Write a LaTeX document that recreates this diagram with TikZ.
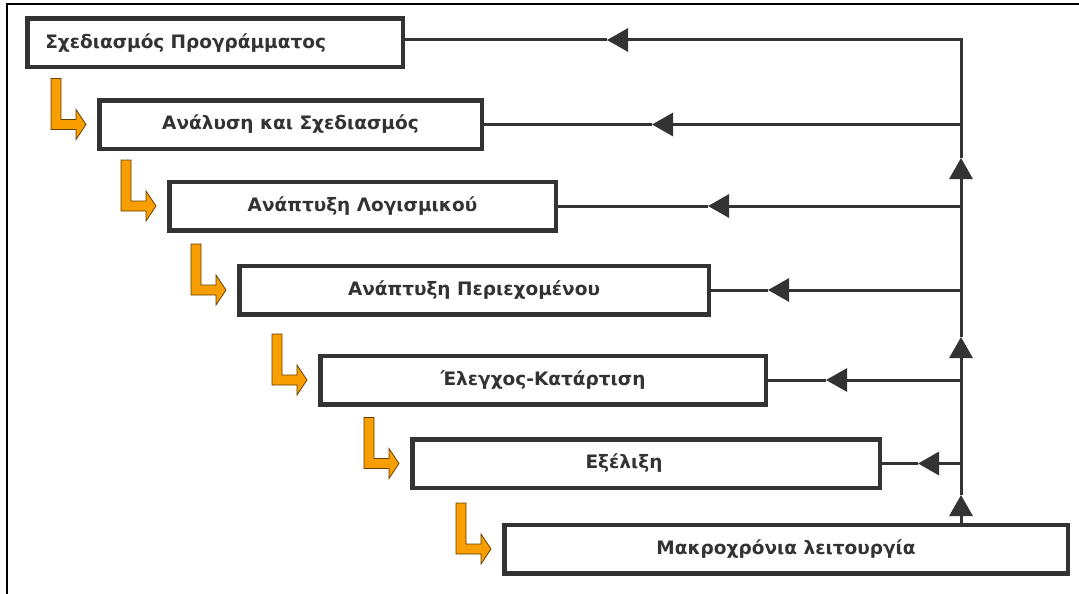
\documentclass[tikz,border=0pt]{standalone}
\usepackage{fontspec}
\setmainfont{DejaVu Sans}
\usetikzlibrary{arrows.meta,calc}
\definecolor{ln}{HTML}{333333}
\definecolor{org}{HTML}{F99E00}
\tikzset{
  box/.style={draw=ln, line width=4.5pt, fill=white, inner sep=0pt, minimum height=48.5pt,
    font=\fontsize{18.5}{21}\selectfont\bfseries, text=ln},
  conn/.style={draw=ln, line width=3pt},
  tip/.style={-{Triangle[length=21pt,width=23pt]}},
  larrow/.pic={\filldraw[fill=org, draw=black!60!org, line width=0.8pt]
    (-35,-46) -- (-25,-46) -- (-25,-5) -- (-10,-5) -- (-10,-15) -- (0,0) -- (-10,15) -- (-10,5) -- (-35,5) -- cycle;}
}
\begin{document}
\begin{tikzpicture}[x=1pt,y=-1pt]
\useasboundingbox (0,0) rectangle (1079,594);
% outer frame (only top and left edges visible)
\draw[black, line width=2.5pt] (7,594) -- (7,4) -- (1079,4);
% boxes
\node[box, minimum width=375.5pt, text width=339.5pt, inner xsep=18pt, align=left] (b1) at (215,43) {Σχεδιασμός Προγράμματος};
\node[box, minimum width=382.5pt] (b2) at (290.5,124.5) {Ανάλυση και Σχεδιασμός};
\node[box, minimum width=386.5pt] (b3) at (362.5,206) {Ανάπτυξη Λογισμικού};
\node[box, minimum width=469.5pt] (b4) at (474,290) {Ανάπτυξη Περιεχομένου};
\node[box, minimum width=445.5pt] (b5) at (543,380) {Έλεγχος-Κατάρτιση};
\node[box, minimum width=467.5pt] (b6) at (646,463.5) {Εξέλιξη\hspace*{44pt}};
\node[box, minimum width=563.5pt] (b7) at (786,549) {Μακροχρόνια λειτουργία};
% trunk coordinates
\coordinate (top) at (961,40);
\coordinate (k7) at (b7.north -| top);
\coordinate (u1) at (961,495);
\coordinate (u2) at (961,337);
\coordinate (u3) at (961,158);
% horizontal arrow tips
\coordinate (t1) at (607,40);
\coordinate (t2) at (b2.east -| 652,0);
\coordinate (t3) at (b3.east -| 708,0);
\coordinate (t4) at (b4.east -| 768,0);
\coordinate (t5) at (b5.east -| 826,0);
\coordinate (t6) at (b6.east -| 918,0);
\foreach \i in {2,...,6} {\coordinate (j\i) at (b\i.east -| top);}
% trunk
\draw[conn, tip] (k7) -- (u1);
\draw[conn, tip] (u1) -- (u2);
\draw[conn, tip] (u2) -- (u3);
\draw[conn, line join=miter, tip] (u3) -- (top) -- (t1);
\draw[conn] (t1) -- (b1.east |- t1);
% branches
\foreach \i in {2,...,6} {
  \draw[conn, tip] (j\i) -- (t\i);
  \draw[conn] (t\i) -- (b\i.east);
}
% orange step arrows
\foreach \i in {2,...,7} {\pic at ([xshift=-11pt]b\i.west) {larrow};}
\end{tikzpicture}
\end{document}
